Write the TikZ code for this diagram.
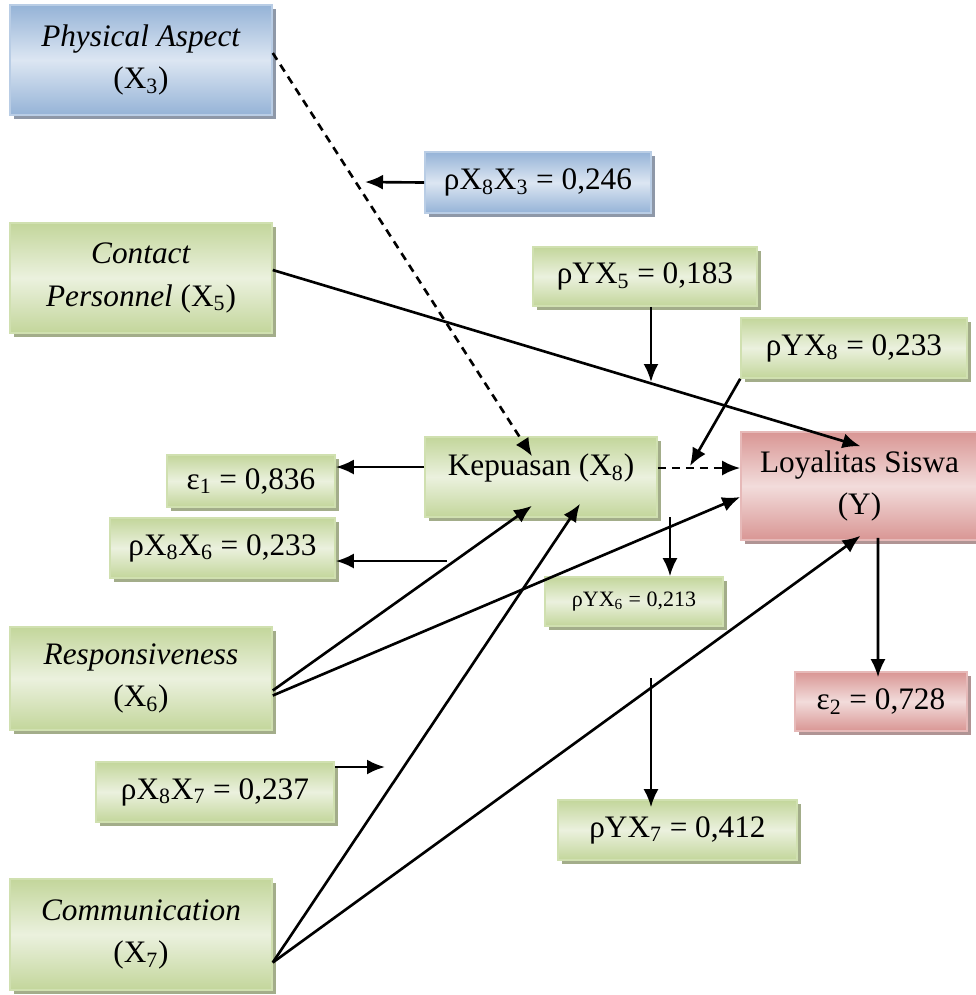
\documentclass[tikz,border=0pt]{standalone}
\usepackage{fontspec}
\setmainfont{Liberation Serif}
\usetikzlibrary{arrows.meta}
\usetikzlibrary{calc}
\usetikzlibrary{shadows}
\definecolor{gdark}{HTML}{C3D69B}
\definecolor{glight}{HTML}{EBF1DE}
\definecolor{gline}{HTML}{D0E0B0}
\definecolor{gshade}{HTML}{A3AD8A}
\definecolor{bdark}{HTML}{95B3D7}
\definecolor{blight}{HTML}{DCE6F2}
\definecolor{bline}{HTML}{B9CDE5}
\definecolor{bshade}{HTML}{8E98A8}
\definecolor{rdark}{HTML}{D99694}
\definecolor{rlight}{HTML}{F2DCDB}
\definecolor{rline}{HTML}{E6B9B8}
\definecolor{rshade}{HTML}{B09494}
\tikzset{
  ->,
  >={Latex[length=3.6mm,width=3mm]},
  box/.style={draw, line width=0.9pt, inner sep=0pt, align=center,
    font=\fontsize{17.8}{24}\selectfont, shading angle=-45},
  greenbox/.style={box, draw=gline, top color=gdark, bottom color=gdark,
    middle color=glight,
    general shadow={fill=gshade, shadow xshift=0.08cm, shadow yshift=-0.08cm}},
  bluebox/.style={box, draw=bline, top color=bdark, bottom color=bdark,
    middle color=blight,
    general shadow={fill=bshade, shadow xshift=0.08cm, shadow yshift=-0.08cm}},
  redbox/.style={box, draw=rline, top color=rdark, bottom color=rdark,
    middle color=rlight,
    general shadow={fill=rshade, shadow xshift=0.08cm, shadow yshift=-0.08cm}},
  dashline/.style={dash pattern=on 1.6mm off 1.2mm},
}

\begin{document}
\begin{tikzpicture}[x=0.02cm, y=-0.02cm, line width=1.5pt]
    \useasboundingbox (0,0) rectangle (976,995);
    % variables
    \node [bluebox, minimum width=5.24cm, minimum height=2.2cm] (phys) at (141,60)
      {\textit{Physical Aspect}\\(X\textsubscript{3})};
    \node [greenbox, minimum width=5.24cm, minimum height=2.2cm] (contact) at (141,278)
      {\textit{Contact}\\\textit{Personnel} (X\textsubscript{5})};
    \node [greenbox, minimum width=5.24cm, minimum height=2.06cm] (resp) at (141,678.5)
      {\textit{Responsiveness}\\(X\textsubscript{6})};
    \node [greenbox, minimum width=5.24cm, minimum height=2.22cm] (comm) at (141,934.5)
      {\textit{Communication}\\(X\textsubscript{7})};
    \node [greenbox, minimum width=4.64cm, minimum height=1.6cm, text depth=4.9mm] (kep) at (541,477)
      {Kepuasan (X\textsubscript{8})};
    \node [redbox, minimum width=4.74cm, minimum height=2.16cm] (loy) at (859.5,486)
      {Loyalitas Siswa\\(Y)};
    % coefficients
    \node [bluebox, minimum width=4.52cm, minimum height=1.22cm] (c3) at (538,182.5)
      {ρX\textsubscript{8}X\textsubscript{3} = 0,246};
    \node [greenbox, minimum width=4.48cm, minimum height=1.18cm] (c5) at (645,276.5)
      {ρYX\textsubscript{5} = 0,183};
    \node [greenbox, minimum width=4.52cm, minimum height=1.2cm] (c8) at (854,348)
      {ρYX\textsubscript{8} = 0,233};
    \node [greenbox, minimum width=3.36cm, minimum height=1.04cm] (e1) at (251,481)
      {ε\textsubscript{1} = 0,836};
    \node [greenbox, minimum width=4.5cm, minimum height=1.2cm] (c6) at (222.5,548)
      {ρX\textsubscript{8}X\textsubscript{6} = 0,233};
    \node [greenbox, minimum width=3.56cm, minimum height=0.98cm,
      font=\fontsize{12.5}{15}\selectfont] (y6) at (634,601.5)
      {ρYX\textsubscript{6} = 0,213};
    \node [redbox, minimum width=3.44cm, minimum height=1.18cm] (e2) at (881,701.5)
      {ε\textsubscript{2} = 0,728};
    \node [greenbox, minimum width=4.76cm, minimum height=1.2cm] (c7) at (215,792)
      {ρX\textsubscript{8}X\textsubscript{7} = 0,237};
    \node [greenbox, minimum width=4.78cm, minimum height=1.2cm] (y7) at (677.5,830)
      {ρYX\textsubscript{7} = 0,412};
    % free ends
    \coordinate (t3) at (365,182);
    \coordinate (t5) at (651,382);
    \coordinate (t8) at (690,466);
    \coordinate (s6) at (447,561);
    \coordinate (sy6) at (670,517);
    \coordinate (t7) at (385,767);
    \coordinate (sy7) at (651,678);
    % paths
    \draw [dashline] ($(phys.east)+(0,-7)$) -- ($(kep.north)+(-9,20)$);
    \draw [dashline] ($(kep.east)+(0,-9)$) -- ($(loy.west)+(0,-18)$);
    \draw ($(contact.east)+(0,-8)$) -- ($(loy.north)+(1,15)$);
    \draw ($(kep.west)+(0,-10)$) -- ($(e1.east)+(0,-14)$);
    \draw ($(resp.east)+(0,12)$) -- ($(kep.south)+(-9,-12)$);
    \draw ($(resp.east)+(0,17)$) -- ($(loy.west)+(0,11)$);
    \draw ($(comm.east)+(0,28)$) -- ($(kep.south)+(39,-14)$);
    \draw ($(comm.east)+(0,28)$) -- ($(loy.south)+(1,-5)$);
    \draw ($(loy.south)+(18.5,-3)$) -- ($(e2.north)+(-3,6)$);
    % coefficient arrows
    \draw (c3.west) -- (t3);
    \draw (t5 |- c5.south) -- (t5);
    \draw (c8.south west) -- (t8);
    \draw (s6) -- (s6 -| c6.east);
    \draw (sy6) -- (sy6 |- y6.north);
    \draw (t7 -| c7.east) -- (t7);
    \draw (sy7) -- ($(sy7 |- y7.north)+(0,8)$);
\end{tikzpicture}
\end{document}
